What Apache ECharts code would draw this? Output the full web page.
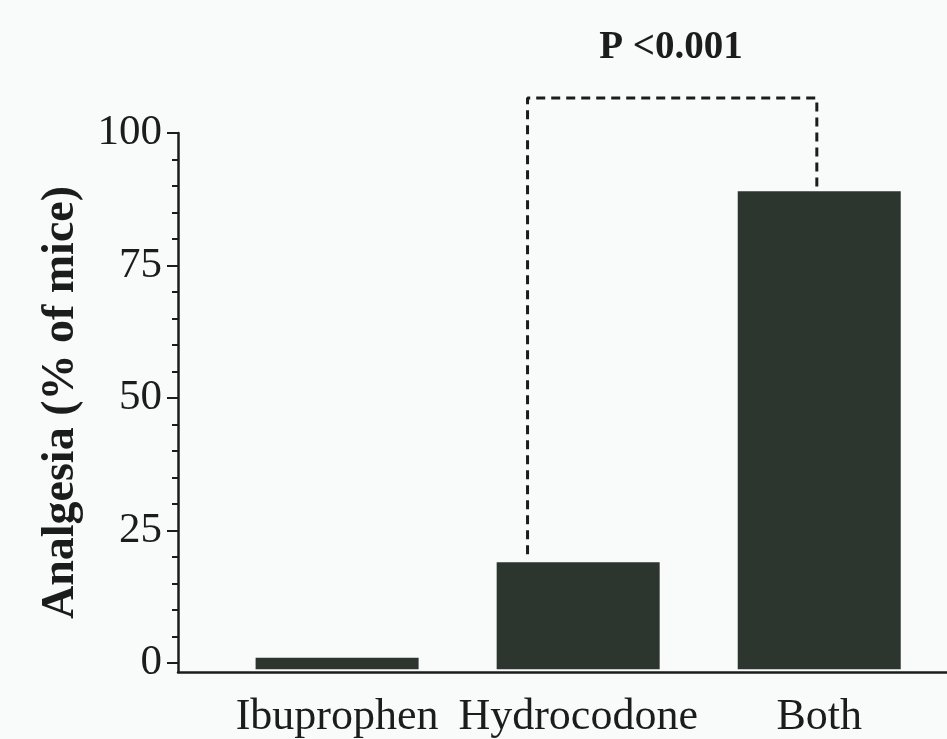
<!DOCTYPE html>
<html>
<head>
<meta charset="utf-8">
<script src="https://cdn.jsdelivr.net/npm/echarts@6/dist/echarts.min.js"></script>
<style>
html, body { margin: 0; background: #f9fbfb; }
#chart { width: 947px; height: 739px; }
</style>
</head>
<body>
<div id="chart"></div>
<script>
// data
var categories = ['Ibuprophen', 'Hydrocodone', 'Both'];
var analgesia = [1, 19, 89];
var barFloor = [-1.2, -1.2, -1.2];   // bars sit slightly below zero, on the axis line
var majorTicks = [0, 25, 50, 75, 100];
var minorTicks = [5, 10, 15, 20, 30, 35, 40, 45, 55, 60, 65, 70, 80, 85, 90, 95];
var bracket = [[0.79, 20.5], [0.79, 106.6], [1.99, 106.6], [1.99, 89.6]];
var pLabel = 'P <0.001';

var serif = 'Liberation Serif';
var ink = '#1c1c1c';
var barColor = '#2c352e';

function toPoints(values) {
    return values.map(function(v, i) { return [i, v]; });
}

var option = {
    backgroundColor: '#f9fbfb',
    animation: false,
    title: {
        text: pLabel,
        left: 666,
        top: 23,
        textAlign: 'center',
        textStyle: { fontFamily: serif, fontWeight: 'bold', fontSize: 39, color: ink }
    },
    grid: { left: 178, right: 0, top: 133, bottom: 67 },
    xAxis: {
        type: 'value',
        min: -0.66,
        max: 2.53,
        splitLine: { show: false },
        axisLine: { show: true, onZero: false, lineStyle: { color: ink, width: 2.5 } },
        axisTick: { show: false },
        axisLabel: {
            customValues: [0, 1, 2],
            margin: 23,
            fontFamily: serif,
            fontSize: 44,
            color: ink,
            formatter: function(v) { return categories[Math.round(v)]; }
        }
    },
    yAxis: [{
        type: 'value',
        min: -1.7,
        max: 100,
        name: 'Analgesia (% of mice)',
        nameLocation: 'middle',
        nameRotate: 90,
        nameGap: 94,
        nameTextStyle: { fontFamily: serif, fontWeight: 'bold', fontSize: 46, color: ink },
        splitLine: { show: false },
        axisLine: { show: true, onZero: false, lineStyle: { color: ink, width: 2.5 } },
        axisTick: { show: true, customValues: majorTicks, length: 11, lineStyle: { color: ink, width: 2 } },
        axisLabel: { customValues: majorTicks, margin: 16, fontFamily: serif, fontSize: 43, color: ink }
    }, {
        type: 'value',
        min: -1.7,
        max: 100,
        position: 'left',
        splitLine: { show: false },
        axisLine: { show: false, onZero: false },
        axisTick: { show: true, customValues: minorTicks, length: 6, lineStyle: { color: ink, width: 2 } },
        axisLabel: { show: false }
    }],
    series: [{
        type: 'bar',
        stack: 'bars',
        barWidth: 163,
        itemStyle: { color: barColor },
        data: toPoints(barFloor)
    }, {
        type: 'bar',
        stack: 'bars',
        barWidth: 163,
        itemStyle: { color: barColor },
        data: toPoints(analgesia)
    }, {
        type: 'line',
        clip: false,
        symbol: 'none',
        lineStyle: { color: ink, width: 3, type: [9, 6] },
        data: bracket
    }]
};

var chart = echarts.init(document.getElementById('chart'));
chart.setOption(option);
</script>
</body>
</html>
